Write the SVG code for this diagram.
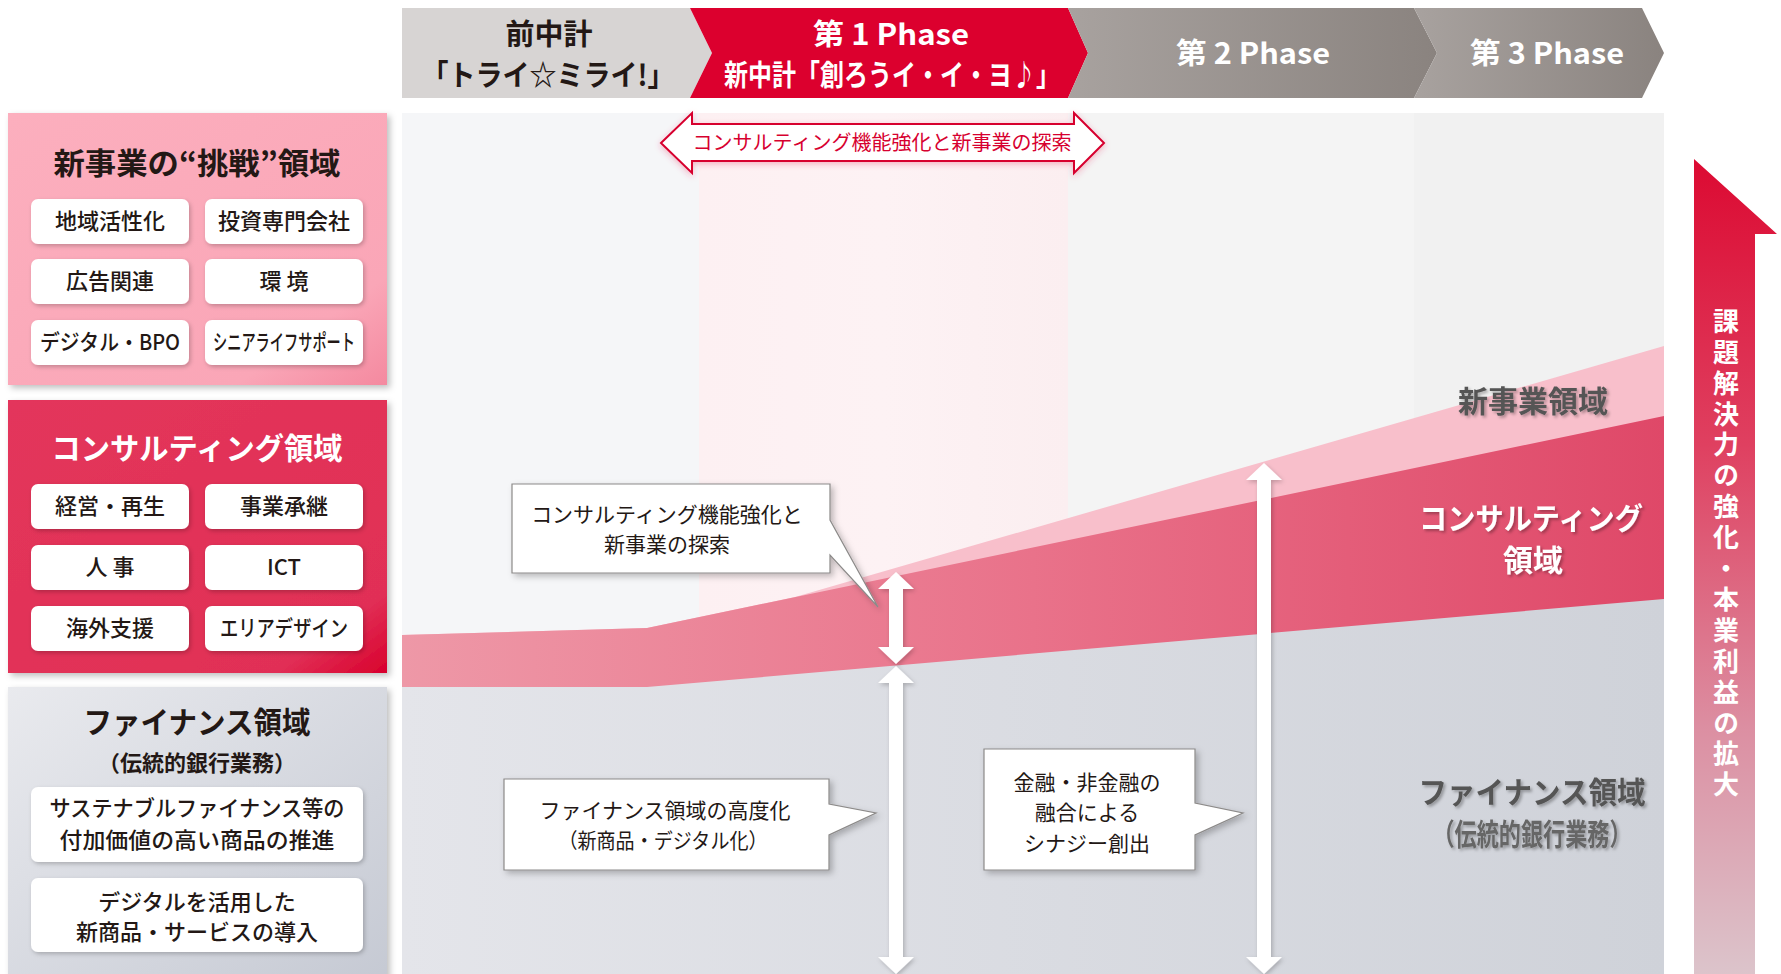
<svg xmlns="http://www.w3.org/2000/svg" width="1781" height="974" viewBox="0 0 1781 974">
<defs>
<style>
text{font-family:"Noto Sans CJK JP","Noto Sans",sans-serif;}
.hd{font-size:29px;font-weight:700;text-anchor:middle;}
.dk{fill:#231815;}
.wt{fill:#ffffff;}
.ttl{font-size:30px;font-weight:700;text-anchor:middle;}
.btn{fill:#ffffff;filter:url(#shs);}
.bt{font-size:22px;font-weight:500;text-anchor:middle;fill:#231815;}
.co{fill:#ffffff;stroke:#8c8a89;stroke-width:1.2;filter:url(#sh);}
.ct{font-size:21px;font-weight:400;text-anchor:middle;fill:#231815;}
.lbl{font-size:30px;font-weight:700;text-anchor:middle;filter:url(#tsh);}
.warr{fill:#ffffff;filter:url(#shs);}
</style>
<filter id="sh" x="-10%" y="-10%" width="130%" height="130%"><feDropShadow dx="3" dy="3" stdDeviation="3" flood-color="#000" flood-opacity="0.25"/></filter>
<filter id="shs" x="-10%" y="-10%" width="130%" height="130%"><feDropShadow dx="1.5" dy="2" stdDeviation="2" flood-color="#000" flood-opacity="0.22"/></filter>
<filter id="tsh" x="-10%" y="-20%" width="130%" height="150%"><feDropShadow dx="2" dy="2" stdDeviation="1.5" flood-color="#000" flood-opacity="0.3"/></filter>
<filter id="glow" x="-10%" y="-30%" width="120%" height="160%"><feDropShadow dx="0" dy="2" stdDeviation="3" flood-color="#e8385d" flood-opacity="0.35"/></filter>
<linearGradient id="gPink" x1="0" y1="0" x2="1" y2="1"><stop offset="0" stop-color="#fcafbe"/><stop offset="0.8" stop-color="#faa6b7"/><stop offset="1" stop-color="#f4899f"/></linearGradient>
<linearGradient id="gRed" x1="0" y1="0" x2="1" y2="1"><stop offset="0" stop-color="#e3365b"/><stop offset="0.85" stop-color="#e12f56"/><stop offset="1" stop-color="#d8002c"/></linearGradient>
<linearGradient id="gGray" x1="0" y1="0" x2="1" y2="1"><stop offset="0" stop-color="#e9eaee"/><stop offset="1" stop-color="#c5c9d3"/></linearGradient>
<linearGradient id="gHdr" x1="0" y1="0" x2="1" y2="0"><stop offset="0" stop-color="#a8a29f"/><stop offset="1" stop-color="#8a837f"/></linearGradient>
<linearGradient id="gRedBand" x1="0" y1="0" x2="1" y2="0"><stop offset="0" stop-color="#ee98a7"/><stop offset="0.5" stop-color="#e9728a"/><stop offset="1" stop-color="#df4868"/></linearGradient>
<linearGradient id="gGrayBand" x1="0" y1="0" x2="1" y2="0"><stop offset="0" stop-color="#e4e5ea"/><stop offset="1" stop-color="#cfd2d9"/></linearGradient>
<linearGradient id="gCol2" x1="0" y1="0" x2="1" y2="0"><stop offset="0" stop-color="#fdf0f2"/><stop offset="0.5" stop-color="#fdf2f4"/><stop offset="1" stop-color="#fbeef0"/></linearGradient>
<linearGradient id="gArrow" x1="0" y1="0" x2="0" y2="1"><stop offset="0" stop-color="#dc0a32"/><stop offset="0.35" stop-color="#df4060"/><stop offset="0.7" stop-color="#dc8fa2"/><stop offset="1" stop-color="#dcc4cb"/></linearGradient>
</defs>

<rect width="1781" height="974" fill="#ffffff"/>

<!-- chart background -->
<g id="chart-bg">
<rect x="402" y="113" width="297" height="861" fill="#f5f6f8"/>
<rect x="699" y="113" width="369" height="861" fill="url(#gCol2)"/>
<rect x="1068" y="113" width="346" height="861" fill="#f4f4f4"/>
<rect x="1414" y="113" width="250" height="861" fill="#f1f1f1"/>
</g>

<!-- chart bands -->
<g id="band-new">
<path d="M402,635 L647,628 L795,597 L1664,346 L1664,974 L402,974 Z" fill="#f8bfcb"/>
</g>
<g id="band-consulting">
<path d="M402,635 L647,628 L1664,416 L1664,974 L402,974 Z" fill="url(#gRedBand)"/>
</g>
<g id="band-finance">
<path d="M402,687 L647,687 L1664,599 L1664,974 L402,974 Z" fill="url(#gGrayBand)"/>
</g>

<!-- header chevrons -->
<g id="phase-prev">
<path d="M402,8 H690 L712,53 L690,98 H402 Z" fill="#d7d4d3"/>
<text class="hd dk" x="549" y="45">前中計</text>
<text class="hd dk" x="548" y="86" textLength="253" lengthAdjust="spacingAndGlyphs">「トライ☆ミライ!」</text>
</g>
<g id="phase-1">
<path d="M690,8 H1068 L1088,53 L1068,98 H690 L712,53 Z" fill="#dc002e"/>
<text class="hd wt" x="891" y="45" textLength="156" lengthAdjust="spacingAndGlyphs">第 1 Phase</text>
<text class="hd wt" x="892" y="86" textLength="336" lengthAdjust="spacingAndGlyphs">新中計「創ろうイ・イ・ヨ♪」</text>
</g>
<g id="phase-2">
<path d="M1068,8 H1414 L1437,53 L1414,98 H1068 L1088,53 Z" fill="url(#gHdr)"/>
<text class="hd wt" x="1253" y="64" textLength="154" lengthAdjust="spacingAndGlyphs">第 2 Phase</text>
</g>
<g id="phase-3">
<path d="M1414,8 H1642 L1664,53 L1642,98 H1414 L1437,53 Z" fill="url(#gHdr)"/>
<text class="hd wt" x="1547" y="64" textLength="154" lengthAdjust="spacingAndGlyphs">第 3 Phase</text>
</g>

<!-- left panels -->
<g id="panel-new">
<rect x="8" y="113" width="379" height="272" fill="url(#gPink)" filter="url(#sh)"/>
<text class="ttl dk" x="197" y="174" textLength="287" lengthAdjust="spacingAndGlyphs">新事業の“挑戦”領域</text>
<rect class="btn" x="31" y="199" width="158" height="45" rx="7"/>
<rect class="btn" x="205" y="199" width="158" height="45" rx="7"/>
<rect class="btn" x="31" y="259" width="158" height="45" rx="7"/>
<rect class="btn" x="205" y="259" width="158" height="45" rx="7"/>
<rect class="btn" x="31" y="320" width="158" height="45" rx="7"/>
<rect class="btn" x="205" y="320" width="158" height="45" rx="7"/>
<text class="bt" x="110" y="229">地域活性化</text>
<text class="bt" x="284" y="229">投資専門会社</text>
<text class="bt" x="110" y="289">広告関連</text>
<text class="bt" x="284" y="289">環 境</text>
<text class="bt" x="110" y="350" textLength="140" lengthAdjust="spacingAndGlyphs">デジタル・BPO</text>
<text class="bt" x="284" y="350" textLength="142" lengthAdjust="spacingAndGlyphs">シニアライフサポート</text>
</g>

<g id="panel-consulting">
<rect x="8" y="400" width="379" height="273" fill="url(#gRed)" filter="url(#sh)"/>
<text class="ttl wt" x="197" y="459" textLength="291" lengthAdjust="spacingAndGlyphs">コンサルティング領域</text>
<rect class="btn" x="31" y="484" width="158" height="45" rx="7"/>
<rect class="btn" x="205" y="484" width="158" height="45" rx="7"/>
<rect class="btn" x="31" y="545" width="158" height="45" rx="7"/>
<rect class="btn" x="205" y="545" width="158" height="45" rx="7"/>
<rect class="btn" x="31" y="606" width="158" height="45" rx="7"/>
<rect class="btn" x="205" y="606" width="158" height="45" rx="7"/>
<text class="bt" x="110" y="514">経営・再生</text>
<text class="bt" x="284" y="514">事業承継</text>
<text class="bt" x="110" y="575">人 事</text>
<text class="bt" x="284" y="575">ICT</text>
<text class="bt" x="110" y="636">海外支援</text>
<text class="bt" x="284" y="636" textLength="128" lengthAdjust="spacingAndGlyphs">エリアデザイン</text>
</g>

<g id="panel-finance">
<rect x="8" y="687" width="379" height="300" fill="url(#gGray)" filter="url(#sh)"/>
<text class="ttl dk" x="197" y="733" textLength="227" lengthAdjust="spacingAndGlyphs">ファイナンス領域</text>
<text class="dk" x="197" y="771" font-size="22" font-weight="700" text-anchor="middle" textLength="198" lengthAdjust="spacingAndGlyphs">（伝統的銀行業務）</text>
<rect class="btn" x="31" y="787" width="332" height="75" rx="7"/>
<rect class="btn" x="31" y="878" width="332" height="74" rx="7"/>
<text class="bt" x="197" y="816" textLength="295" lengthAdjust="spacingAndGlyphs">サステナブルファイナンス等の</text>
<text class="bt" x="197" y="848" textLength="275" lengthAdjust="spacingAndGlyphs">付加価値の高い商品の推進</text>
<text class="bt" x="197" y="910">デジタルを活用した</text>
<text class="bt" x="197" y="940">新商品・サービスの導入</text>
</g>

<!-- top double arrow banner -->
<g id="banner-explore">
<path d="M661,143 L692,113 L692,124 L1074,124 L1074,113 L1104,143 L1074,173 L1074,161 L692,161 L692,173 Z" fill="#ffffff" stroke="#d7002f" stroke-width="2" filter="url(#glow)"/>
<text x="882" y="150" font-size="20" fill="#d7002f" text-anchor="middle">コンサルティング機能強化と新事業の探索</text>
</g>

<!-- connectors: white double arrows -->
<g id="connectors">
<path class="warr" d="M896,572 L914,589 L903,589 L903,647 L914,647 L896,664 L878,647 L889,647 L889,589 L878,589 Z"/>
<path class="warr" d="M896,666 L914,683 L903,683 L903,957 L914,957 L896,974 L878,957 L889,957 L889,683 L878,683 Z"/>
<path class="warr" d="M1264,463 L1282,480 L1271,480 L1271,957 L1282,957 L1264,974 L1246,957 L1257,957 L1257,480 L1246,480 Z"/>
</g>

<!-- callouts -->
<g id="callout-consulting">
<path class="co" d="M512,484 H830 V520 L878,607 L830,555 V573 H512 Z"/>
<text class="ct" x="667" y="522">コンサルティング機能強化と</text>
<text class="ct" x="667" y="552">新事業の探索</text>
</g>
<g id="callout-finance">
<path class="co" d="M504,779 H829 V804 L876,813 L829,835 V870 H504 Z"/>
<text class="ct" x="665" y="818">ファイナンス領域の高度化</text>
<text class="ct" x="663" y="848" textLength="209" lengthAdjust="spacingAndGlyphs">（新商品・デジタル化）</text>
</g>
<g id="callout-synergy">
<path class="co" d="M984,749 H1195 V803 L1243,813 L1195,835 V870 H984 Z"/>
<text class="ct" x="1087" y="790">金融・非金融の</text>
<text class="ct" x="1087" y="820">融合による</text>
<text class="ct" x="1087" y="851">シナジー創出</text>
</g>

<!-- right labels -->
<g id="label-new">
<text class="lbl" x="1533" y="412" font-size="32" fill="#555555">新事業領域</text>
</g>
<g id="label-consulting">
<text class="lbl wt" x="1531" y="529" textLength="224" lengthAdjust="spacingAndGlyphs">コンサルティング</text>
<text class="lbl wt" x="1533" y="571">領域</text>
</g>
<g id="label-finance">
<text class="lbl" x="1532" y="803" fill="#555555" textLength="227" lengthAdjust="spacingAndGlyphs">ファイナンス領域</text>
<text class="lbl" x="1532" y="845" font-size="20" font-weight="500" fill="#666666" textLength="199" lengthAdjust="spacingAndGlyphs">（伝統的銀行業務）</text>
</g>

<!-- right growth arrow -->
<g id="growth-arrow">
<path d="M1694,159 L1777,234 L1755,234 L1755,974 L1694,974 Z" fill="url(#gArrow)"/>
<text x="1726" y="308" font-size="26" font-weight="700" fill="#ffffff" style="writing-mode:vertical-rl" letter-spacing="4.9">課題解決力の強化・本業利益の拡大</text>
</g>
</svg>
